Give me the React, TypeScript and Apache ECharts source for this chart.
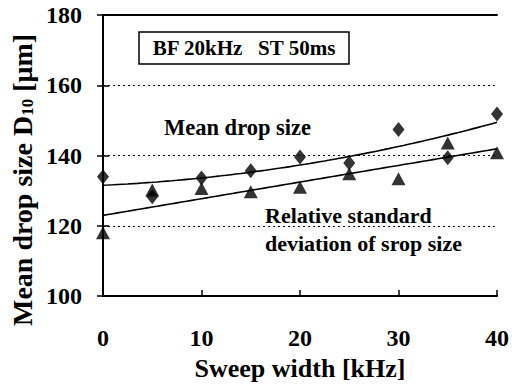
import React, { useEffect, useRef } from "react";
import * as echarts from "echarts";

// Sweep width [kHz] at which each condition was measured
const sweepWidth = [0, 5, 10, 15, 20, 25, 30, 35, 40];
// Mean drop size D10 [µm] (diamonds)
const meanDropSize = [134, 128.3, 133.6, 135.7, 139.6, 137.9, 147.4, 139.4, 151.8];
// Relative standard deviation of drop size (triangles), same vertical scale
const relStdDev = [118, 130.2, 130.6, 129.7, 131, 134.8, 133.4, 143.6, 140.8];

const xMin = 0;
const xMax = 40;
const xStep = 10;
const yMin = 100;
const yMax = 180;
const yStep = 20;

const FONT = "Liberation Serif";

// Least-squares polynomial fit; returns coefficients c0 + c1*x + c2*x^2 ...
function polyfit(xs: number[], ys: number[], degree: number): number[] {
  const n = degree + 1;
  const a: number[][] = [];
  for (let i = 0; i < n; i++) {
    const row: number[] = [];
    for (let j = 0; j < n; j++) {
      let s = 0;
      for (let k = 0; k < xs.length; k++) s += Math.pow(xs[k], i + j);
      row.push(s);
    }
    let r = 0;
    for (let k = 0; k < xs.length; k++) r += ys[k] * Math.pow(xs[k], i);
    row.push(r);
    a.push(row);
  }
  for (let i = 0; i < n; i++) {
    let p = i;
    for (let r = i + 1; r < n; r++) if (Math.abs(a[r][i]) > Math.abs(a[p][i])) p = r;
    [a[i], a[p]] = [a[p], a[i]];
    for (let r = 0; r < n; r++) {
      if (r === i) continue;
      const f = a[r][i] / a[i][i];
      for (let c = i; c <= n; c++) a[r][c] -= f * a[i][c];
    }
  }
  return a.map((row, i) => row[n] / row[i]);
}

function evalPoly(c: number[], x: number): number {
  return c.reduce((s, ci, i) => s + ci * Math.pow(x, i), 0);
}

function fitCurve(c: number[]): number[][] {
  const pts: number[][] = [];
  for (let x = xMin; x <= xMax; x += 0.5) pts.push([x, evalPoly(c, x)]);
  return pts;
}

export default function App() {
  const ref = useRef<HTMLDivElement>(null);

  useEffect(() => {
    if (!ref.current) return;
    const chart = echarts.init(ref.current, null, { renderer: "svg" });

    const meanFit = polyfit(sweepWidth, meanDropSize, 2);
    const stdFit = polyfit(sweepWidth, relStdDev, 1);

    const axisLineStyle = { color: "#000", width: 2 };
    const tickLabel = {
      color: "#000",
      fontFamily: FONT,
      fontWeight: "bold" as const,
      fontSize: 24,
    };

    chart.setOption({
      animation: false,
      backgroundColor: "#fff",
      textStyle: { fontFamily: FONT },
      grid: { left: 103, right: 13, top: 15, bottom: 85, containLabel: false },
      xAxis: [
        {
          type: "value",
          min: xMin,
          max: xMax,
          interval: xStep,
          position: "bottom",
          axisLine: { show: true, lineStyle: axisLineStyle },
          axisTick: { show: true, inside: true, length: 6, lineStyle: { color: "#000", width: 1.5 } },
          axisLabel: { ...tickLabel, margin: 30 },
          splitLine: { show: false },
          name: "Sweep width [kHz]",
          nameLocation: "middle",
          nameGap: 52,
          nameTextStyle: { color: "#000", fontFamily: FONT, fontWeight: "bold", fontSize: 26 },
        },
        {
          type: "value",
          min: xMin,
          max: xMax,
          position: "top",
          axisLine: { show: true, lineStyle: axisLineStyle },
          axisTick: { show: false },
          axisLabel: { show: false },
          splitLine: { show: false },
        },
      ],
      yAxis: [
        {
          type: "value",
          min: yMin,
          max: yMax,
          interval: yStep,
          position: "left",
          axisLine: { show: true, lineStyle: axisLineStyle },
          axisTick: { show: true, inside: true, length: 6, lineStyle: { color: "#000", width: 1.5 } },
          axisLabel: { ...tickLabel, margin: 21 },
          splitLine: { show: true, lineStyle: { color: "#000", width: 1.2, type: [2, 3] } },
        },
        {
          type: "value",
          min: yMin,
          max: yMax,
          interval: yStep,
          position: "right",
          axisLine: { show: true, lineStyle: axisLineStyle },
          axisTick: { show: true, inside: true, length: 6, lineStyle: { color: "#000", width: 1.5 } },
          axisLabel: { show: false },
          splitLine: { show: false },
        },
      ],
      series: [
        {
          name: "Mean drop size fit",
          type: "line",
          data: fitCurve(meanFit),
          showSymbol: false,
          symbol: "none",
          lineStyle: { color: "#000", width: 1.6 },
          z: 2,
        },
        {
          name: "Relative standard deviation fit",
          type: "line",
          data: fitCurve(stdFit),
          showSymbol: false,
          symbol: "none",
          lineStyle: { color: "#000", width: 1.6 },
          z: 2,
        },
        {
          name: "Mean drop size",
          type: "scatter",
          symbol: "diamond",
          symbolSize: [12, 15],
          clip: false,
          itemStyle: { color: "#000" },
          data: sweepWidth.map((x, i) => [x, meanDropSize[i]]),
          z: 3,
        },
        {
          name: "Relative standard deviation",
          type: "scatter",
          symbol: "triangle",
          symbolSize: [14, 13],
          clip: false,
          itemStyle: { color: "#000" },
          data: sweepWidth.map((x, i) => [x, relStdDev[i]]),
          z: 3,
        },
      ],
      graphic: [
        {
          type: "text",
          x: 22,
          y: 180,
          rotation: Math.PI / 2,
          style: {
            text: "Mean drop size D{sub|10} [μm]",
            fill: "#000",
            fontFamily: FONT,
            fontWeight: "bold",
            fontSize: 28,
            align: "center",
            verticalAlign: "middle",
            rich: {
              sub: {
                fontFamily: FONT,
                fontWeight: "bold",
                fontSize: 17,
                fill: "#000",
                padding: [10, 0, 0, 0],
              },
            },
          },
        },
        {
          type: "rect",
          shape: { x: 139, y: 32, width: 210, height: 32 },
          style: { fill: "#fff", stroke: "#000", lineWidth: 1.5 },
        },
        {
          type: "text",
          x: 244,
          y: 48,
          style: {
            text: "BF 20kHz\u00a0\u00a0\u00a0ST 50ms",
            fill: "#000",
            fontFamily: FONT,
            fontWeight: "bold",
            fontSize: 21,
            align: "center",
            verticalAlign: "middle",
          },
        },
        {
          type: "text",
          x: 164,
          y: 127,
          style: {
            text: "Mean drop size",
            fill: "#000",
            fontFamily: FONT,
            fontWeight: "bold",
            fontSize: 22.5,
            align: "left",
            verticalAlign: "middle",
          },
        },
        {
          type: "text",
          x: 265,
          y: 215,
          style: {
            text: "Relative standard",
            fill: "#000",
            fontFamily: FONT,
            fontWeight: "bold",
            fontSize: 22,
            align: "left",
            verticalAlign: "middle",
          },
        },
        {
          type: "text",
          x: 265,
          y: 243,
          style: {
            text: "deviation of srop size",
            fill: "#000",
            fontFamily: FONT,
            fontWeight: "bold",
            fontSize: 22,
            align: "left",
            verticalAlign: "middle",
          },
        },
      ],
    });

    return () => chart.dispose();
  }, []);

  return (
    <div
      ref={ref}
      style={{ position: "fixed", left: 0, top: 0, width: 512, height: 386, background: "#fff" }}
    />
  );
}
